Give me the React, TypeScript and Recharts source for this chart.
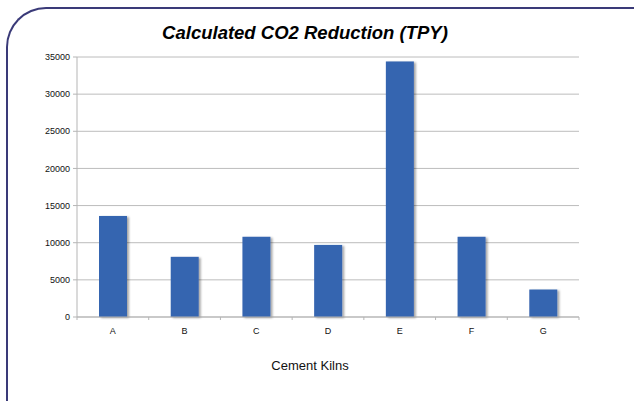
import { BarChart, Bar, XAxis, YAxis, CartesianGrid } from "recharts";

const kilns = ["A", "B", "C", "D", "E", "F", "G"];
const reduction = [13600, 8100, 10800, 9700, 34400, 10800, 3700];
const yTicks = [0, 5000, 10000, 15000, 20000, 25000, 30000, 35000];

const chartData = kilns.map((kiln, i) => ({ kiln, reduction: reduction[i] }));

const font = '"Liberation Sans", Arial, Helvetica, sans-serif';
const halfBand = (579 - 77) / kilns.length / 2;

function KilnTick(props: any) {
  const { x, y, payload } = props;
  const axisY = y - 6;
  return (
    <g>
      <line x1={x - halfBand} x2={x - halfBand} y1={axisY} y2={axisY + 3} stroke="#b5b5b5" />
      {payload.value === kilns[kilns.length - 1] && (
        <line x1={x + halfBand} x2={x + halfBand} y1={axisY} y2={axisY + 3} stroke="#b5b5b5" />
      )}
      <text x={x} y={axisY + 17} textAnchor="middle" fontSize={9} fill="#111" fontFamily={font}>
        {payload.value}
      </text>
    </g>
  );
}

function ShadowBar(props: any) {
  const { x, y, width, height, fill } = props;
  return <rect x={x} y={y} width={width} height={height} fill={fill} filter="url(#barShadow)" />;
}

export default function App() {
  return (
    <div
      style={{
        position: "absolute",
        left: 0,
        top: 0,
        width: 634,
        height: 401,
        overflow: "hidden",
        background: "#fff",
        fontFamily: font,
      }}
    >
      <svg width={0} height={0} style={{ position: "absolute" }}>
        <defs>
          <filter id="barShadow" x="-20%" y="-10%" width="160%" height="130%">
            <feDropShadow dx="2" dy="1" stdDeviation="1" floodColor="#000" floodOpacity="0.35" />
          </filter>
        </defs>
      </svg>
      {/* rounded frame, top + left edges only */}
      <div
        style={{
          position: "absolute",
          left: 6,
          top: 7,
          width: 700,
          height: 500,
          borderTop: "2px solid #3a3a78",
          borderLeft: "2px solid #3a3a78",
          borderTopLeftRadius: 40,
        }}
      />
      <div
        style={{
          position: "absolute",
          left: 0,
          top: 22,
          width: 610,
          textAlign: "center",
          fontSize: 18.5,
          lineHeight: "22px",
          fontWeight: "bold",
          fontStyle: "italic",
          color: "#000",
        }}
      >
        Calculated CO2 Reduction (TPY)
      </div>
      <div style={{ position: "absolute", left: 0, top: 0 }}>
        <BarChart
          width={634}
          height={401}
          data={chartData}
          margin={{ top: 57, right: 55, bottom: 54, left: 0 }}
        >
          <CartesianGrid vertical={false} stroke="#bcbcbc" />
          <XAxis
            dataKey="kiln"
            height={30}
            tickSize={4}
            tickMargin={2}
            tickLine={false}
            axisLine={{ stroke: "#b5b5b5" }}
            tick={<KilnTick />}
            interval={0}
          />
          <YAxis
            width={77}
            domain={[0, 35000]}
            ticks={yTicks}
            tickSize={4}
            tickMargin={3}
            axisLine={{ stroke: "#b5b5b5" }}
            tickLine={{ stroke: "#b5b5b5" }}
            tick={{ fontSize: 9, fill: "#111", fontFamily: font }}
          />
          <Bar
            dataKey="reduction"
            fill="#3565b0"
            barSize={28}
            shape={<ShadowBar />}
            isAnimationActive={false}
          />
        </BarChart>
      </div>
      <div
        style={{
          position: "absolute",
          left: 0,
          top: 358,
          width: 620,
          textAlign: "center",
          fontSize: 13,
          lineHeight: "16px",
          color: "#111",
        }}
      >
        Cement Kilns
      </div>
    </div>
  );
}
